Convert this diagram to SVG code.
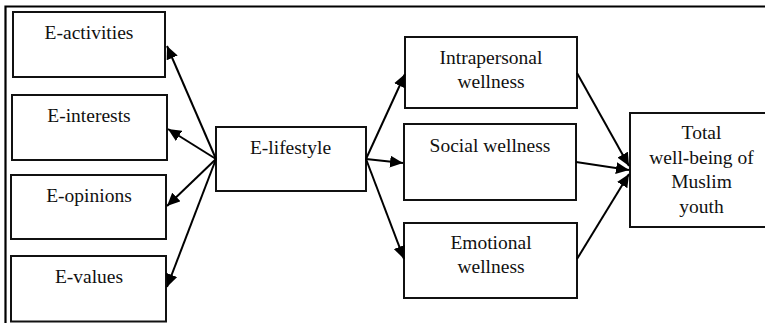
<svg xmlns="http://www.w3.org/2000/svg" width="765" height="323" viewBox="0 0 765 323">
<style>
.box{fill:#fff;stroke:#111;stroke-width:2}
.t{font-size:19.5px;fill:#111;text-anchor:middle}
.c{stroke:#000;stroke-width:2;fill:none}
.frame{stroke:#000;stroke-width:2.2;fill:none}
</style>
<defs>
<marker id="ah" markerUnits="userSpaceOnUse" markerWidth="14" markerHeight="12" refX="13" refY="6" orient="auto">
<path d="M0,0 L13,6 L0,12 Z" fill="#000"/>
</marker>
</defs>
<path class="frame" d="M5.5,323 V6.5 H765"/>
<g font-family="'Liberation Serif', 'Times New Roman', serif">
<g id="e-activities"><rect class="box" x="13" y="12" width="152" height="65"/><text class="t" x="89" y="39">E-activities</text></g>
<g id="e-interests"><rect class="box" x="12" y="95" width="155" height="65"/><text class="t" x="89" y="121.5">E-interests</text></g>
<g id="e-opinions"><rect class="box" x="11" y="175" width="155" height="64"/><text class="t" x="89" y="201.5">E-opinions</text></g>
<g id="e-values"><rect class="box" x="11" y="256" width="155" height="65.5"/><text class="t" x="89" y="283">E-values</text></g>
<g id="e-lifestyle"><rect class="box" x="216" y="127" width="150" height="64"/><text class="t" x="290.5" y="154">E-lifestyle</text></g>
<g id="intrapersonal"><rect class="box" x="405" y="37" width="172" height="71"/><text class="t" x="491" y="64">Intrapersonal</text><text class="t" x="491" y="88.3">wellness</text></g>
<g id="social"><rect class="box" x="404" y="124" width="172" height="76"/><text class="t" x="490" y="151.5">Social wellness</text></g>
<g id="emotional"><rect class="box" x="404" y="223" width="173" height="75"/><text class="t" x="491" y="249.3">Emotional</text><text class="t" x="491" y="273.3">wellness</text></g>
<g id="total"><rect class="box" x="630" y="113" width="146" height="114"/><text class="t" x="701.5" y="139.3">Total</text><text class="t" x="701.5" y="163.5">well-being of</text><text class="t" x="701.5" y="188">Muslim</text><text class="t" x="701.5" y="212.5">youth</text></g>
</g>
<g id="connectors">
<line class="c" x1="216" y1="159" x2="167" y2="46" marker-end="url(#ah)"/>
<line class="c" x1="216" y1="159" x2="168" y2="129" marker-end="url(#ah)"/>
<line class="c" x1="216" y1="159" x2="167" y2="206" marker-end="url(#ah)"/>
<line class="c" x1="216" y1="159" x2="167" y2="287" marker-end="url(#ah)"/>
<line class="c" x1="366" y1="159" x2="405" y2="74" marker-end="url(#ah)"/>
<line class="c" x1="366" y1="159" x2="403" y2="163" marker-end="url(#ah)"/>
<line class="c" x1="366" y1="159" x2="404" y2="259" marker-end="url(#ah)"/>
<line class="c" x1="577" y1="73" x2="629" y2="166" marker-end="url(#ah)"/>
<line class="c" x1="576" y1="162" x2="629" y2="170" marker-end="url(#ah)"/>
<line class="c" x1="577" y1="259" x2="629" y2="174" marker-end="url(#ah)"/>
</g>
</svg>
